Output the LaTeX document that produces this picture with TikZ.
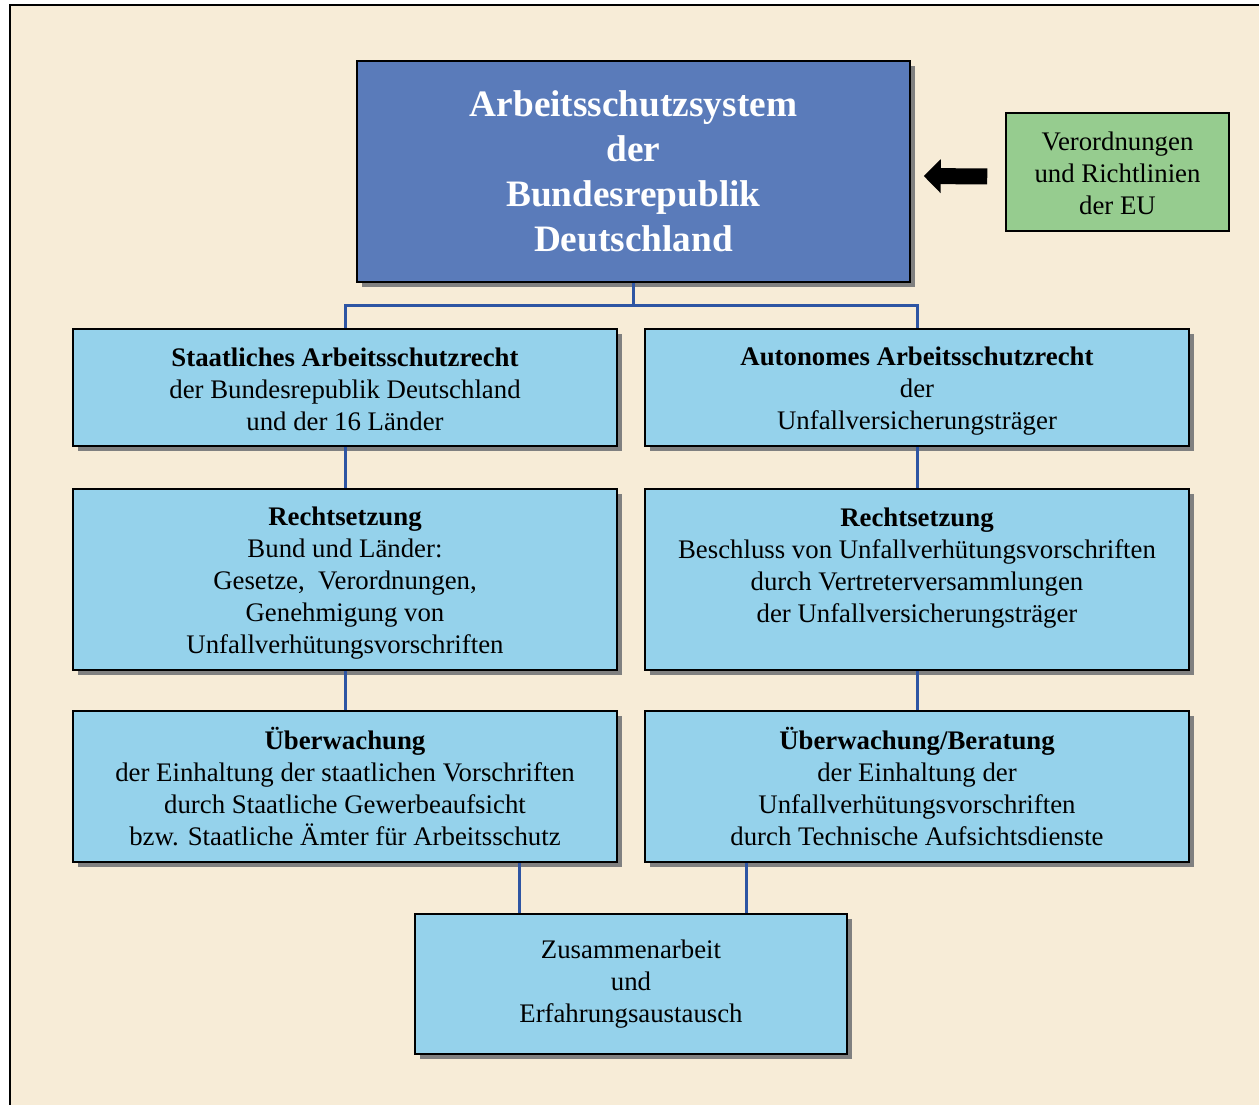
\documentclass[tikz,border=0pt]{standalone}
\usepackage{fontspec}
\setmainfont{Liberation Serif}
\usepackage{tikz}
\usetikzlibrary{positioning,shadows,arrows.meta}

\definecolor{cream}{HTML}{F7ECD7}
\definecolor{titleblue}{HTML}{5A7BBA}
\definecolor{boxblue}{HTML}{95D2EB}
\definecolor{eugreen}{HTML}{96CC8F}
\definecolor{linkblue}{HTML}{2E55A3}
\newcommand{\bodyfont}{\fontsize{26.8}{32}\selectfont}
\newcommand{\headfont}{\fontsize{37.3}{45}\selectfont\bfseries}
\newcommand{\firststrut}{\rule{0pt}{26.5pt}}

\begin{document}
\begin{tikzpicture}[x=1pt, y=-1pt, align=center,
	box/.style={draw, line width=1.5pt, fill=boxblue, inner sep=0pt,
		drop shadow={shadow xshift=5pt, shadow yshift=-5pt, fill=black!50, opacity=1}},
	body/.style={font=\bodyfont, execute at end node={\rule[-5.5pt]{0pt}{5.5pt}}},
	txt/.style={font=\bodyfont, inner sep=0pt},
	link/.style={linkblue, line width=3pt},
	bigarrow/.style={line width=16pt, -{Triangle[length=17pt, width=33pt]}}]
		\useasboundingbox (0,0) rectangle (1259,1105);
		\clip (0,0) rectangle (1259,1105);
		\fill[white] (0,0) rectangle (1259,1105);
		\draw[line width=1.5pt, fill=cream] (10,5) rectangle (1275,1120);
		
		\node (title) at (633.5, 171.5) [box, fill=titleblue, text=white, font=\headfont, minimum width=553pt, minimum height=221pt] {Arbeitsschutzsystem\\der\\Bundesrepublik\\Deutschland};
		\node (eu) at (1117.5, 172) [draw, line width=1.5pt, fill=eugreen, inner sep=0pt, body, minimum width=223pt, minimum height=118pt] {\firststrut Verordnungen\\und Richtlinien\\der EU};
		
		\node (staat) at (345, 387.5) [box, body, minimum width=544pt, minimum height=117pt] {\firststrut\textbf{Staatliches Arbeitsschutzrecht}\\der Bundesrepublik Deutschland\\und der 16 Länder};
		\node (auto) at (917, 387.5) [box, body, minimum width=544pt, minimum height=117pt] {\firststrut\textbf{Autonomes Arbeitsschutzrecht}\\der\\Unfallversicherungsträger};
		
		\node (rsl) at (345, 579.5) [box, body, minimum width=544pt, minimum height=181pt] {\firststrut\textbf{Rechtsetzung}\\Bund und Länder:\\Gesetze, \ Verordnungen,\\Genehmigung von\\Unfallverhütungsvorschriften};
		\node (rsr) at (917, 579.5) [box, minimum width=544pt, minimum height=181pt] {};
		\node (rsrtext) [txt, below=19pt of rsr.north] {\textbf{Rechtsetzung}\\Beschluss von Unfallverhütungsvorschriften\\durch Vertreterversammlungen\\der Unfallversicherungsträger};
		
		\node (uebl) at (345, 786.5) [box, body, minimum width=544pt, minimum height=151pt] {\firststrut\textbf{Überwachung}\\der Einhaltung der staatlichen Vorschriften\\durch Staatliche Gewerbeaufsicht\\bzw. Staatliche Ämter für Arbeitsschutz};
		\node (uebr) at (917, 786.5) [box, body, minimum width=544pt, minimum height=151pt] {\firststrut\textbf{Überwachung/Beratung}\\der Einhaltung der\\Unfallverhütungsvorschriften\\durch Technische Aufsichtsdienste};
		
		\node (zus) at (631, 984) [box, body, minimum width=432pt, minimum height=140pt] {Zusammenarbeit\\und\\Erfahrungsaustausch};
		
		\draw[bigarrow] ([xshift=-18pt, yshift=-4.5pt]eu.west) -- ([xshift=13pt, yshift=-4.5pt]title.east);
		
		\draw[link] (title.south) -- ++(0,23) -| (staat.north);
		\draw[link] (title.south) -- ++(0,23) -| (auto.north);
		\draw[link] (staat.south) -- (rsl.north);
		\draw[link] (auto.south) -- (rsr.north);
		\draw[link] (rsl.south) -- (uebl.north);
		\draw[link] (rsr.south) -- (uebr.north);
		\draw[link] ([xshift=-112pt]zus.north) -- ([xshift=-112pt]zus.north |- uebl.south);
		\draw[link] ([xshift=115pt]zus.north) -- ([xshift=115pt]zus.north |- uebr.south);
		
	\end{tikzpicture}
\end{document}
